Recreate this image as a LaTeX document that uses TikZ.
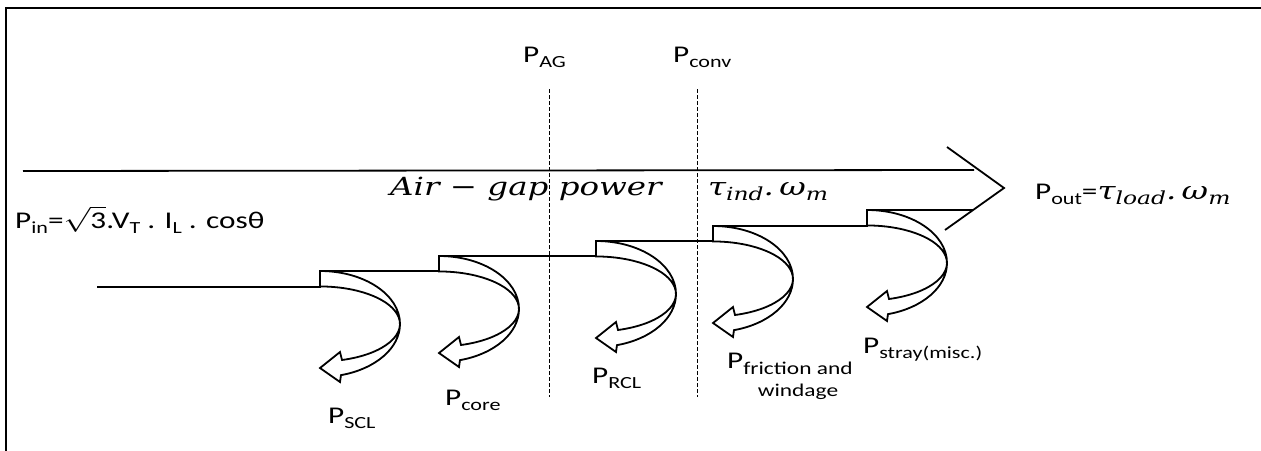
\documentclass[tikz,border=0pt]{standalone}
\usepackage{graphicx}
\usepackage{fontspec}
\setmainfont{Carlito}
\newfontfamily\cmath{DejaVu Serif}
\newcommand\sbs[1]{\raisebox{-5pt}{\fontsize{17}{23}\selectfont #1}}
\newcommand\sbm[1]{\raisebox{-5pt}{\fontsize{18}{23}\selectfont #1}}
\newcommand\sx[1]{\scalebox{1.3}[1]{#1}}
\begin{document}
\begin{tikzpicture}[x=1pt,y=1pt,
  ln/.style={line width=1.8pt, line join=miter},
  guide/.style={line width=0.9pt, dash pattern=on 3.5pt off 2.5pt},
  lbl/.style={inner sep=0pt, anchor=base west, font=\fontsize{24}{28}\selectfont},
  mlbl/.style={inner sep=0pt, anchor=base west, font=\cmath\itshape\fontsize{25}{30}\selectfont},
  lossarrow/.pic={
    \draw[ln] (0,0) arc[start angle=90, end angle=-74.8, x radius=80, y radius=53]
      -- (20,-111) -- (0,-97) -- (20,-81) -- (22,-89)
      arc[start angle=-74, end angle=90, x radius=80, y radius=37.5] -- cycle;
  }]
\useasboundingbox (0,0) rectangle (1261,-450);
% frame
\coordinate (fr1) at (1262,-8);
\coordinate (fr2) at (6,-8);
\coordinate (fr3) at (6,-451);
\draw[ln] (fr1) -- (fr2) -- (fr3);
% main arrow
\coordinate (a0) at (23,-171);
\coordinate (a1) at (974,-170);
\coordinate (hb1) at (947,-147);
\coordinate (tip) at (1004,-188);
\coordinate (hb2) at (945,-230);
\draw[ln] (a0) -- (a1);
\draw[ln] (hb1) -- (tip) -- (hb2);
% staircase
\coordinate (st0) at (97,-287);
\coordinate (s1) at (320,-271);
\coordinate (s2) at (439,-256);
\coordinate (s3) at (596,-241);
\coordinate (s4) at (713,-226);
\coordinate (s5) at (867,-210);
\coordinate (send) at (973,-210);
\draw[ln] (st0) -| (s1) -| (s2) -| (s3) -| (s4) -| (s5) -- (send);
% loss arrows
\pic at (s1) {lossarrow};
\pic at (s2) {lossarrow};
\pic at (s3) {lossarrow};
\pic at (s4) {lossarrow};
\pic at (s5) {lossarrow};
% dashed guides
\coordinate (g1a) at (549,-89);
\coordinate (g1b) at (549,-397);
\coordinate (g2a) at (697,-89);
\coordinate (g2b) at (697,-397);
\draw[guide] (g1a) -- (g1b);
\draw[guide] (g2a) -- (g2b);
% labels
\node[lbl] (pin) at (15,-228) {\sx{P\sbs{in}=$\sqrt{\mbox{3}}$.V\sbs{T} . I\sbs{L} . cosθ}};
\node[mlbl] (agp) at (390,-195) {\sx{Air − gap power}};
\node[mlbl] (tind) at (708,-195) {\sx{τ\sbm{ind}.\,ω\sbm{m}}};
\node[lbl] (pout) at (1035,-199) {\sx{P\sbs{out}={\cmath\itshape\fontsize{25}{30}\selectfont τ\sbm{load}.\,ω\sbm{m}}}};
\node[lbl] (pag) at (523,-62) {\sx{P\sbs{AG}}};
\node[lbl] (pconv) at (673,-62) {\sx{P\sbs{conv}}};
\node[lbl] (pscl) at (328,-423) {\sx{P\sbs{SCL}}};
\node[lbl] (pcore) at (445,-405) {\sx{P\sbs{core}}};
\node[lbl] (prcl) at (592,-383) {\sx{P\sbs{RCL}}};
\node[lbl] (pfw) at (727,-368) {\sx{P\raisebox{-6pt}{\fontsize{18}{22}\selectfont\begin{tabular}[t]{@{}c@{}}friction and\\windage\end{tabular}}}};
\node[lbl] (pstray) at (863,-353) {\sx{P\sbs{stray(misc.)}}};
\end{tikzpicture}
\end{document}
